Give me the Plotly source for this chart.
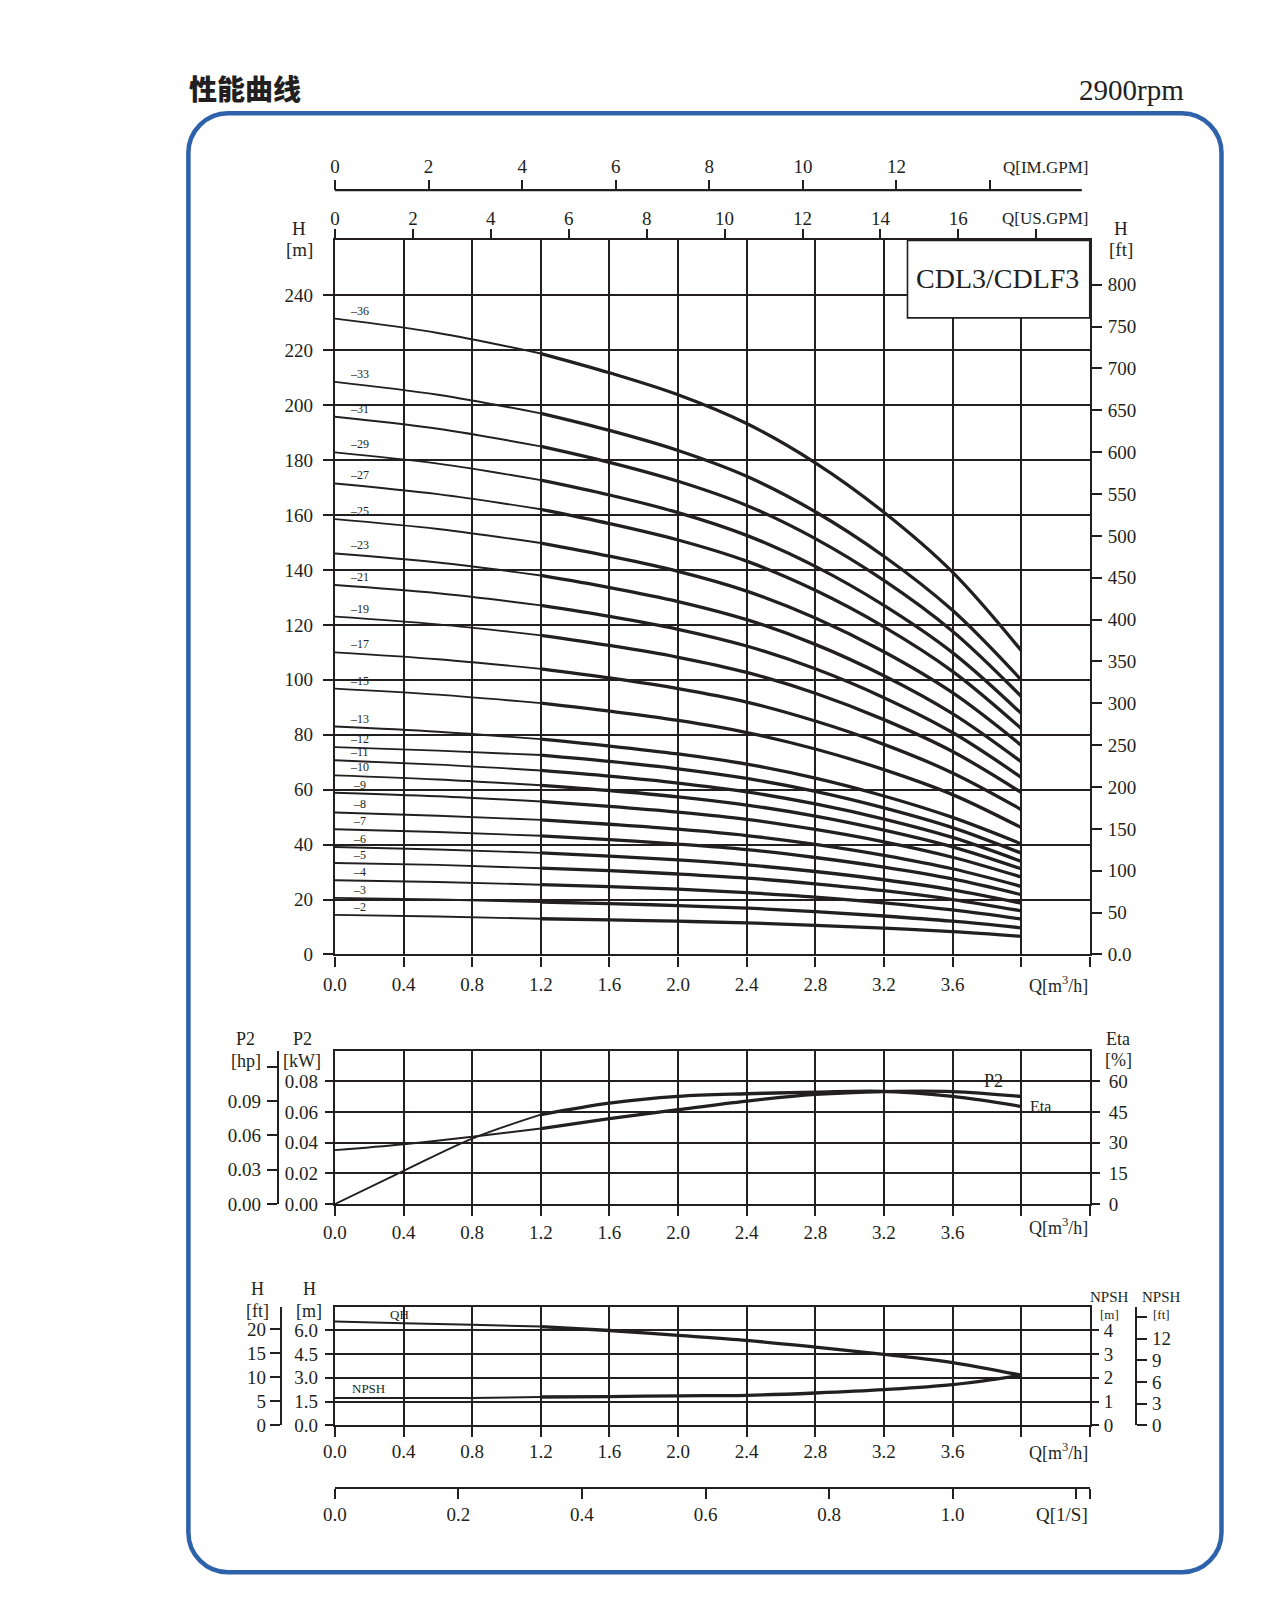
import plotly.graph_objects as go

# ---------------- data ----------------
Q_PTS = [0.0, 0.6, 1.2, 1.6, 2.0, 2.4, 2.8, 3.2, 3.6, 4.0]          # m3/h
STAGES = [36, 33, 31, 29, 27, 25, 23, 21, 19, 17, 15, 13, 12, 11, 10, 9, 8, 7, 6, 5, 4, 3, 2]
H_36 = [231.5, 226.3, 218.8, 211.8, 203.8, 193.3, 179.0, 161.0, 139.2, 110.7]
H_33 = [208.5, 203.8, 197.0, 190.8, 183.5, 174.1, 161.2, 145.0, 125.3, 100.0]
H_31 = [195.8, 191.4, 185.0, 179.2, 172.3, 163.5, 151.4, 136.2, 117.7, 94.0]
H_29 = [182.8, 178.7, 172.7, 167.3, 160.9, 152.6, 141.3, 127.1, 109.9, 87.8]
H_27 = [171.5, 167.6, 162.1, 156.9, 150.9, 143.2, 132.6, 119.3, 103.1, 82.3]
H_25 = [158.5, 154.9, 149.8, 145.0, 139.5, 132.3, 122.5, 110.2, 95.3, 76.2]
H_23 = [146.0, 142.7, 138.0, 133.6, 128.5, 121.9, 112.9, 101.5, 87.7, 70.2]
H_21 = [134.5, 131.5, 127.1, 123.1, 118.4, 112.3, 104.0, 93.5, 80.8, 64.5]
H_19 = [123.0, 120.2, 116.2, 112.5, 108.2, 102.7, 95.1, 85.5, 73.9, 59.0]
H_17 = [110.0, 107.5, 104.0, 100.7, 96.8, 91.9, 85.0, 76.5, 66.1, 52.8]
H_15 = [96.8, 94.6, 91.5, 88.6, 85.2, 80.8, 74.8, 67.3, 58.2, 46.2]
H_13 = [83.0, 81.1, 78.4, 75.9, 73.0, 69.3, 64.2, 57.7, 49.9, 40.3]
H_12 = [75.5, 74.2, 72.6, 70.3, 67.6, 64.1, 59.4, 53.4, 46.2, 36.9]
H_11 = [70.7, 69.1, 67.0, 64.9, 62.4, 59.2, 54.8, 49.3, 42.6, 33.9]
H_10 = [65.2, 63.7, 61.6, 59.7, 57.4, 54.4, 50.4, 45.3, 39.2, 31.2]
H_9 = [58.9, 57.6, 55.7, 53.9, 51.8, 49.2, 45.5, 41.0, 35.4, 28.2]
H_8 = [51.7, 50.5, 49.0, 47.4, 45.6, 43.3, 40.1, 36.1, 31.2, 24.8]
H_7 = [45.6, 44.6, 43.2, 41.8, 40.2, 38.2, 35.3, 31.8, 27.5, 21.8]
H_6 = [39.1, 38.2, 37.0, 35.8, 34.4, 32.6, 30.2, 27.2, 23.5, 18.7]
H_5 = [33.3, 32.6, 31.4, 30.5, 29.3, 27.8, 25.7, 23.2, 20.0, 15.9]
H_4 = [27.0, 26.4, 25.4, 24.7, 23.8, 22.5, 20.9, 18.8, 16.2, 12.9]
H_3 = [20.6, 20.0, 19.1, 18.5, 17.8, 16.9, 15.6, 14.0, 12.1, 9.7]
H_2 = [14.4, 13.8, 13.0, 12.6, 12.1, 11.5, 10.6, 9.6, 8.3, 6.6]
H_CURVES = [H_36, H_33, H_31, H_29, H_27, H_25, H_23, H_21, H_19, H_17, H_15, H_13,
            H_12, H_11, H_10, H_9, H_8, H_7, H_6, H_5, H_4, H_3, H_2]

Q_PERF = [0.0, 0.4, 0.8, 1.2, 1.6, 2.0, 2.4, 2.8, 3.2, 3.6, 4.0]
P2_KW = [0.0351, 0.0390, 0.0438, 0.0492, 0.0556, 0.0615, 0.0671, 0.0714, 0.0733, 0.0733, 0.0701]
ETA_PCT = [0.0, 16.2, 32.0, 43.7, 49.3, 52.6, 53.9, 54.7, 55.1, 52.6, 47.7]
QH_M = [6.57, 6.46, 6.36, 6.25, 6.00, 5.69, 5.37, 4.95, 4.49, 3.97, 3.17]
NPSH_M = [1.15, 1.15, 1.15, 1.19, 1.21, 1.24, 1.26, 1.36, 1.50, 1.71, 2.10]

Q_TICKS = [0.0, 0.4, 0.8, 1.2, 1.6, 2.0, 2.4, 2.8, 3.2, 3.6, 4.0, 4.4]
Q_TICKTEXT = ['0.0', '0.4', '0.8', '1.2', '1.6', '2.0', '2.4', '2.8', '3.2', '3.6', '', '']
H_TICKS = [0, 20, 40, 60, 80, 100, 120, 140, 160, 180, 200, 220, 240]
FT_TICKS = [0, 50, 100, 150, 200, 250, 300, 350, 400, 450, 500, 550, 600, 650, 700, 750, 800]
FT_TICKTEXT = ['0.0'] + [str(v) for v in FT_TICKS[1:]]
US_TICKS = [0, 2, 4, 6, 8, 10, 12, 14, 16, 18]
US_TICKTEXT = ['0', '2', '4', '6', '8', '10', '12', '14', '16', '']
IM_TICKS = [0, 2, 4, 6, 8, 10, 12, 14]
IM_TICKTEXT = ['0', '2', '4', '6', '8', '10', '12', '']
KW_TICKS = [0, 0.02, 0.04, 0.06, 0.08]
KW_TICKTEXT = ['0.00', '0.02', '0.04', '0.06', '0.08']
HP_TICKS = [0, 0.03, 0.06, 0.09, 0.12]
HP_TICKTEXT = ['0.00', '0.03', '0.06', '0.09', '']
ETA_TICKS = [0, 15, 30, 45, 60]
HM_TICKS = [0, 1.5, 3.0, 4.5, 6.0]
HM_TICKTEXT = ['0.0', '1.5', '3.0', '4.5', '6.0']
NPSHM_TICKS = [0, 1, 2, 3, 4]
HFT_TICKS = [0, 5, 10, 15, 20]
NPSHFT_TICKS = [0, 3, 6, 9, 12, 15]
NPSHFT_TICKTEXT = ['0', '3', '6', '9', '12', '']
LS_TICKS = [0, 0.2, 0.4, 0.6, 0.8, 1.0, 1.2, 4.4 / 3.6]
LS_TICKTEXT = ['0.0', '0.2', '0.4', '0.6', '0.8', '1.0', '', '']

M_TO_FT = 3.28084
M3H_TO_USGPM = 4.402868
M3H_TO_IMGPM = 3.666154
KW_TO_HP = 1.34102

# ---------------- styling helpers ----------------
W, HGT = 1264, 1600
INK = '#231f20'
SERIF = 'Liberation Serif'
BLUE = '#2e63ab'
GRIDW = 1.6


def px(x):
    return x / W


def py(y):
    return 1 - y / HGT


X_DOM = [px(318), px(1080)]

fig = go.Figure()


def line_trace(x, y, xa, ya, width):
    fig.add_trace(go.Scatter(x=x, y=y, mode='lines', xaxis=xa, yaxis=ya,
                             line=dict(color=INK, width=width, shape='spline', smoothing=1.0),
                             hoverinfo='skip', showlegend=False))


def axis_holder(xa, ya):
    # empty trace so that secondary unit axes get drawn
    fig.add_trace(go.Scatter(x=[None], y=[None], mode='lines', xaxis=xa, yaxis=ya,
                             hoverinfo='skip', showlegend=False))


# main H-Q curves: thin to 1.2, thick after
for H in H_CURVES:
    line_trace(Q_PTS[:3], H[:3], 'x', 'y', 1.9)
    line_trace(Q_PTS[2:], H[2:], 'x', 'y', 3.3)

# P2 / Eta
line_trace(Q_PERF[:4], P2_KW[:4], 'x4', 'y3', 1.9)
line_trace(Q_PERF[3:], P2_KW[3:], 'x4', 'y3', 3.3)
line_trace(Q_PERF[:4], ETA_PCT[:4], 'x4', 'y4', 1.9)
line_trace(Q_PERF[3:], ETA_PCT[3:], 'x4', 'y4', 3.3)

# QH / NPSH
line_trace(Q_PERF[:4], QH_M[:4], 'x5', 'y6', 1.9)
line_trace(Q_PERF[3:], QH_M[3:], 'x5', 'y6', 3.3)
line_trace(Q_PERF[:4], NPSH_M[:4], 'x5', 'y7', 1.9)
line_trace(Q_PERF[3:], NPSH_M[3:], 'x5', 'y7', 3.3)

for xa, ya in [('x', 'y2'), ('x2', 'y'), ('x3', 'y'), ('x4', 'y5'),
               ('x5', 'y8'), ('x5', 'y9'), ('x6', 'y6')]:
    axis_holder(xa, ya)

TICKFONT = dict(family=SERIF, size=19, color=INK)


def axis(**kw):
    base = dict(showgrid=False, zeroline=False, ticks='outside', ticklen=10, tickwidth=1.5,
                tickcolor=INK, showline=True, linewidth=2.2, linecolor=INK, tickfont=TICKFONT,
                fixedrange=True, tickmode='array')
    base.update(kw)
    return base


def qaxis(anchor, standoff=1, **kw):
    return axis(domain=X_DOM, anchor=anchor, range=[0, 4.4], tickvals=Q_TICKS, ticktext=Q_TICKTEXT,
                showgrid=True, gridcolor=INK, gridwidth=GRIDW, ticklabelstandoff=standoff, **kw)


layout = dict(
    width=W, height=HGT, margin=dict(l=0, r=0, t=0, b=0),
    paper_bgcolor='white', plot_bgcolor='white', showlegend=False,
    font=dict(family=SERIF, color=INK, size=19),
    # main panel
    xaxis=qaxis('y', standoff=2),
    yaxis=axis(domain=[py(953), py(234)], anchor='x', range=[0, 260], tickvals=H_TICKS,
               showgrid=True, gridcolor=INK, gridwidth=GRIDW, ticklabelstandoff=6),
    yaxis2=axis(overlaying='y', side='right', anchor='x', range=[0, 260 * M_TO_FT],
                tickvals=FT_TICKS, ticktext=FT_TICKTEXT, ticklabelstandoff=2),
    xaxis2=axis(overlaying='x', side='top', anchor='y', range=[0, 4.4 * M3H_TO_USGPM],
                tickvals=US_TICKS, ticktext=US_TICKTEXT, ticklen=9, ticklabelstandoff=-3),
    xaxis3=axis(overlaying='x', side='top', anchor='free', position=py(183.3),
                range=[0, 4.4 * M3H_TO_IMGPM], tickvals=IM_TICKS, ticktext=IM_TICKTEXT,
                showline=False, ticklabelstandoff=-1),
    # P2 / Eta panel
    xaxis4=qaxis('y3', mirror=True, standoff=0),
    yaxis3=axis(domain=[py(1204.3), py(1049.8)], anchor='x4', range=[0, 0.1], tickvals=KW_TICKS,
                ticktext=KW_TICKTEXT, showgrid=True, gridcolor=INK, gridwidth=GRIDW, ticklen=8,
                ticklabelstandoff=3),
    yaxis4=axis(overlaying='y3', side='right', anchor='x4', range=[0, 75], tickvals=ETA_TICKS,
                ticklen=8, ticklabelstandoff=5),
    yaxis5=axis(overlaying='y3', side='left', anchor='free', position=px(260),
                range=[0, 0.1 * KW_TO_HP], tickvals=HP_TICKS, ticktext=HP_TICKTEXT,
                linewidth=1.6, ticklabelstandoff=2),
    # QH / NPSH panel
    xaxis5=qaxis('y6', mirror=True, standoff=-2),
    yaxis6=axis(domain=[py(1427), py(1307.8)], anchor='x5', range=[0, 7.5], tickvals=HM_TICKS,
                ticktext=HM_TICKTEXT, showgrid=True, gridcolor=INK, gridwidth=GRIDW, ticklen=8,
                ticklabelstandoff=3),
    yaxis7=axis(overlaying='y6', side='right', anchor='x5', range=[0, 5], tickvals=NPSHM_TICKS,
                ticklen=7, ticklabelstandoff=1),
    yaxis8=axis(overlaying='y6', side='left', anchor='free', position=px(263),
                range=[0, 7.5 * M_TO_FT], tickvals=HFT_TICKS, linewidth=1.6, ticklabelstandoff=0),
    yaxis9=axis(overlaying='y6', side='right', anchor='free', position=px(1127),
                range=[0, 5 * M_TO_FT], tickvals=NPSHFT_TICKS, ticktext=NPSHFT_TICKTEXT,
                linewidth=1.6, ticklabelstandoff=1),
    xaxis6=axis(overlaying='x5', side='bottom', anchor='free', position=py(1490),
                range=[0, 4.4 / 3.6], tickvals=LS_TICKS, ticktext=LS_TICKTEXT,
                ticklabelstandoff=-1),
)
fig.update_layout(**layout)

ann = []


def note(text, x, y, size=19, xanchor='center', yanchor='middle', family=SERIF, **kw):
    ann.append(dict(text=text, x=px(x), y=py(y), xref='paper', yref='paper', showarrow=False,
                    xanchor=xanchor, yanchor=yanchor,
                    font=dict(family=family, size=size, color=INK, **kw)))


# stage labels
for n, H in zip(STAGES, H_CURVES):
    ann.append(dict(text='\u2013' + str(n), x=0.145, y=H[0], xref='x', yref='y', showarrow=False,
                    xanchor='center', yanchor='middle', yshift=8,
                    font=dict(family=SERIF, size=12, color=INK)))

# titles
note('性能曲线', 169, 81, size=28, xanchor='left', family='Noto Sans CJK SC', weight=900)
note('2900rpm', 1177, 83, size=29, xanchor='right')
note('CDL3/CDLF3', 987, 272, size=28)

# axis titles main
note('H', 282, 222)
note('[m]', 282, 243)
note('H', 1112, 222)
note('[ft]', 1112, 243)
note('Q[US.GPM]', 1080, 212, size=17, xanchor='right')
note('Q[IM.GPM]', 1080, 161, size=17, xanchor='right')
note('Q[m<sup>3</sup>/h]', 1080, 983, size=18, xanchor='right')

# middle panel
note('P2', 228, 1038, size=18)
note('[hp]', 228, 1060, size=18)
note('P2', 285, 1038, size=18)
note('[kW]', 285, 1060, size=18)
note('Eta', 1109, 1038, size=18)
note('[%]', 1109, 1059, size=18)
note('Q[m<sup>3</sup>/h]', 1080, 1227, size=18, xanchor='right')
note('P2', 983, 1080, size=18)
note('Eta', 1030, 1106, size=16)

# bottom panel
note('H', 240, 1290, size=18)
note('[ft]', 240, 1312, size=18)
note('H', 292, 1290, size=18)
note('[m]', 292, 1312, size=18)
note('NPSH', 1100, 1298, size=15)
note('[m]', 1100, 1316, size=13)
note('NPSH', 1152, 1298, size=15)
note('[ft]', 1152, 1316, size=13)
note('QH', 383, 1316, size=13)
note('NPSH', 352, 1390, size=13)
note('Q[m<sup>3</sup>/h]', 1080, 1453, size=18, xanchor='right')
note('Q[1/S]', 1080, 1517, size=19, xanchor='right')

fig.update_layout(annotations=ann)

# shapes
shapes = []
# rounded blue frame
x0, x1, y0, y1 = px(170), px(1213), py(106), py(1575)
rx, ry = 40 / W, 40 / HGT
k = 0.5523
path = (f'M {x0 + rx},{y0} L {x1 - rx},{y0} '
        f'C {x1 - rx + k * rx},{y0} {x1},{y0 - ry + k * ry} {x1},{y0 - ry} '
        f'L {x1},{y1 + ry} '
        f'C {x1},{y1 + ry - k * ry} {x1 - rx + k * rx},{y1} {x1 - rx},{y1} '
        f'L {x0 + rx},{y1} '
        f'C {x0 + rx - k * rx},{y1} {x0},{y1 + ry - k * ry} {x0},{y1 + ry} '
        f'L {x0},{y0 - ry} '
        f'C {x0},{y0 - ry + k * ry} {x0 + rx - k * rx},{y0} {x0 + rx},{y0} Z')
shapes.append(dict(type='path', path=path, xref='paper', yref='paper',
                   line=dict(color=BLUE, width=4.5), layer='above'))
# white gaps in grid lines behind stage labels
for gy, xr in [(200, 372), (160, 368), (100, 372), (80, 372), (60, 363), (40, 363), (20, 363)]:
    shapes.append(dict(type='rect', xref='paper', yref='y', x0=px(321), x1=px(xr),
                       y0=gy - 1.3, y1=gy + 1.3, fillcolor='white', line=dict(width=0),
                       layer='between'))
# model box
shapes.append(dict(type='rect', xref='paper', yref='paper', x0=px(896), x1=px(1080),
                   y0=py(312), y1=py(234), fillcolor='white',
                   line=dict(color=INK, width=1.6), layer='above'))
# IM.GPM axis line
shapes.append(dict(type='line', xref='paper', yref='paper', x0=px(318), x1=px(1072),
                   y0=py(183.3), y1=py(183.3), line=dict(color=INK, width=2.2)))
fig.update_layout(shapes=shapes)

fig.write_html('out.html')
